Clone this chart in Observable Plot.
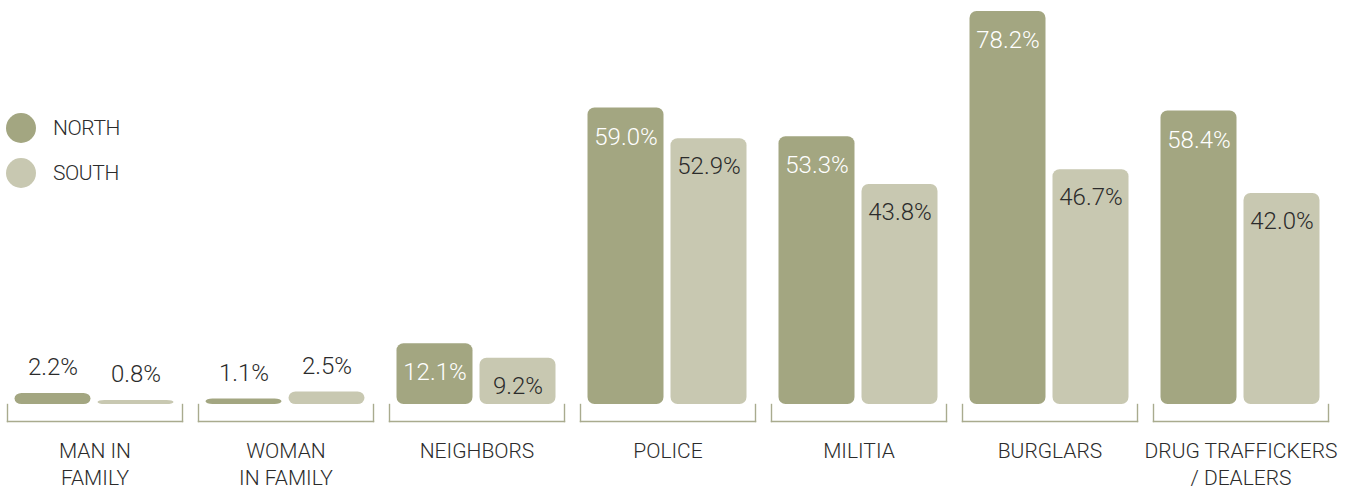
<!DOCTYPE html>
<html><head><meta charset="utf-8">
<script src="https://cdn.jsdelivr.net/npm/d3@7"></script>
<script src="https://cdn.jsdelivr.net/npm/@observablehq/plot@0.6"></script>
<style>
body{margin:0;background:#fff;font-family:Roboto,sans-serif;}
#wrap{position:relative;width:1348px;height:489px;overflow:hidden;}
#legend{position:absolute;left:6px;top:113px;}
.item{display:flex;align-items:center;height:30px;margin-bottom:15px;font-size:21px;font-weight:300;letter-spacing:-0.4px;color:#2b2b2b;}
.sw{width:30px;height:30px;border-radius:50%;margin-right:17px;}
</style></head><body><div id="wrap"><div id="legend"></div></div>
<script>
const categories = ["MAN IN\nFAMILY", "WOMAN\nIN FAMILY", "NEIGHBORS", "POLICE", "MILITIA", "BURGLARS", "DRUG TRAFFICKERS\n/ DEALERS"];
const series = ["NORTH", "SOUTH"];
const north = [2.2, 1.1, 12.1, 59.0, 53.3, 78.2, 58.4];
const south = [0.8, 2.5, 9.2, 52.9, 43.8, 46.7, 42.0];
const colors = ["#a3a681", "#c8c8b1"];
const textDark = "#2b2b2b";
const bracketColor = "#a9ab8e";

const data = [];
categories.forEach((c, i) => {
  data.push({category: c, series: "NORTH", value: north[i]});
  data.push({category: c, series: "SOUTH", value: south[i]});
});
const fmt = d => d.value.toFixed(1) + "%";
const inside = d => d.value >= 5;

const chart = Plot.plot({
  width: 1348, height: 489,
  marginLeft: 5.5, marginRight: 19, marginTop: 11, marginBottom: 68,
  style: {fontFamily: "Roboto, sans-serif", overflow: "visible", background: "white"},
  fx: {domain: categories, paddingInner: 0.0857, paddingOuter: 0, axis: null},
  x: {domain: series, paddingInner: 0.084, paddingOuter: 0.096, axis: null},
  y: {domain: [0, 78.2], insetBottom: 17, axis: null},
  color: {domain: series, range: colors},
  marks: [
    Plot.frame({anchor: "left", insetTop: 393, stroke: bracketColor, strokeWidth: 1.4}),
    Plot.frame({anchor: "right", insetTop: 393, stroke: bracketColor, strokeWidth: 1.4}),
    Plot.frame({anchor: "bottom", stroke: bracketColor, strokeWidth: 1.4}),
    Plot.barY(data, {fx: "category", x: "series", y: "value", fill: "series", rx: 7}),
    Plot.text(data.filter(d => inside(d) && d.series === "NORTH"), {fx: "category", x: "series", y: "value", text: fmt, dy: 29, fill: "white", fontSize: 24, fontWeight: 300}),
    Plot.text(data.filter(d => inside(d) && d.series === "SOUTH"), {fx: "category", x: "series", y: "value", text: fmt, dy: 28, fill: textDark, fontSize: 24, fontWeight: 300}),
    Plot.text(data.filter(d => !inside(d)), {fx: "category", x: "series", y: "value", text: fmt, dy: -26, fill: textDark, fontSize: 24, fontWeight: 300}),
    Plot.text(categories, {fx: d => d, text: d => d, frameAnchor: "bottom", lineAnchor: "top", dy: 17, fontSize: 21, lineHeight: 1.3, fill: textDark, fontWeight: 300, letterSpacing: -0.4})
  ]
});
document.getElementById("wrap").appendChild(chart);
chart.style.position = "absolute";
chart.style.left = "0";
chart.style.top = "0";
chart.querySelectorAll("text").forEach(t => { if (t.getAttribute("letter-spacing") == null && t.closest("[letter-spacing]") == null) {} });
const legend = document.getElementById("legend");
legend.style.zIndex = 2;
series.forEach((s, i) => {
  const row = document.createElement("div");
  row.className = "item";
  const sw = document.createElement("span");
  sw.className = "sw";
  sw.style.background = colors[i];
  row.appendChild(sw);
  row.appendChild(document.createTextNode(s));
  legend.appendChild(row);
});
</script></body></html>
